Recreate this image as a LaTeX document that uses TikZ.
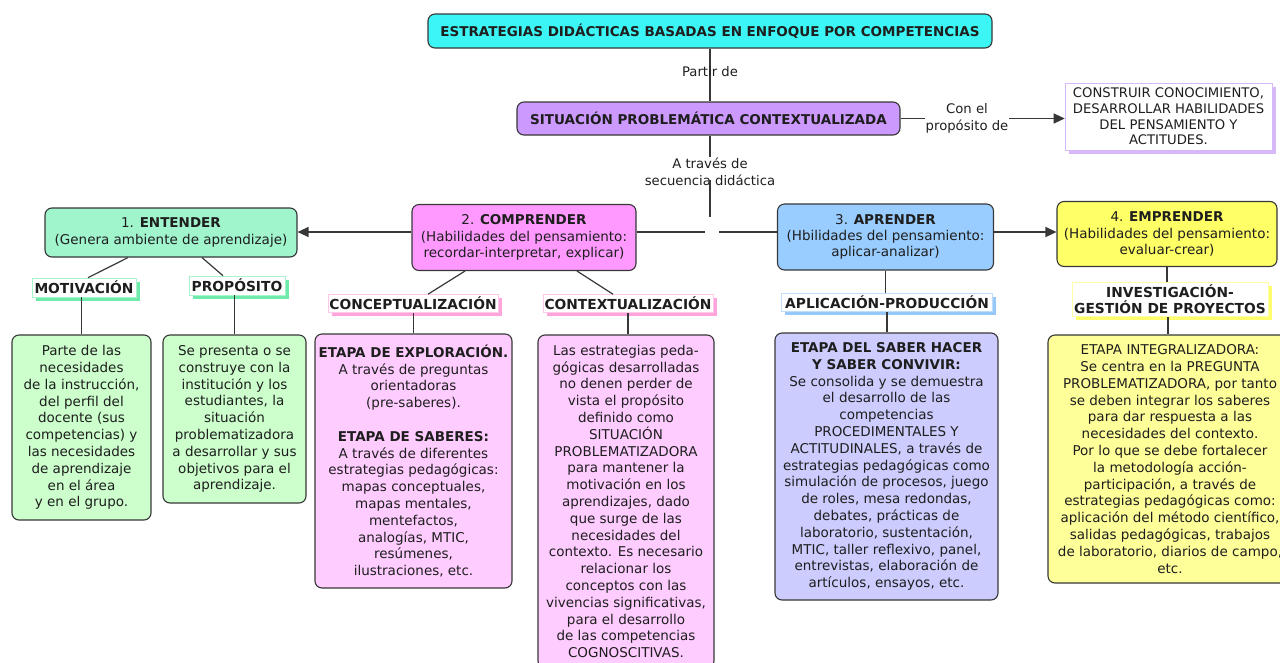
\documentclass[tikz,border=0pt]{standalone}
\usepackage{fontspec}
\setmainfont{DejaVu Sans}
\usetikzlibrary{arrows.meta,shadows,calc}

\definecolor{txt}{RGB}{30,30,30}
\definecolor{linec}{RGB}{55,55,55}
\definecolor{cyanT}{RGB}{60,245,245}
\definecolor{lilac}{RGB}{204,153,255}
\definecolor{lilacL}{RGB}{215,185,250}
\definecolor{mint}{RGB}{160,245,205}
\definecolor{pinkM}{RGB}{255,153,255}
\definecolor{blueM}{RGB}{153,204,255}
\definecolor{yellowM}{RGB}{255,255,102}
\definecolor{greenL}{RGB}{204,255,204}
\definecolor{pinkL}{RGB}{255,204,255}
\definecolor{blueL}{RGB}{204,204,255}
\definecolor{yellowL}{RGB}{255,255,153}
\definecolor{greenS}{RGB}{110,235,170}
\definecolor{pinkS}{RGB}{255,165,220}
\definecolor{blueS}{RGB}{150,200,250}
\definecolor{yellowS}{RGB}{255,255,110}

\tikzset{
  box/.style={draw=linec, line width=1.1pt, rounded corners=7pt, align=center,
    inner sep=2pt, text=txt, font=\fontsize{13.5}{16.8}\selectfont},
  headbox/.style={box, font=\fontsize{13.5}{16.2}\selectfont},
  tagbox/.style={fill=white, draw=#1!60, line width=0.6pt, align=center, inner sep=1pt,
    text=txt, font=\bfseries\fontsize{13.8}{15.8}\selectfont,
    drop shadow={shadow xshift=3.5pt, shadow yshift=-3.5pt, fill=#1, opacity=1}},
  lbl/.style={align=center, text=txt, font=\fontsize{13.2}{17}\selectfont, inner sep=1pt},
  conn/.style={draw=linec, line width=1.2pt},
  arr/.style={conn, -{Triangle[length=11pt,width=10pt]}},
}

\begin{document}
\begin{tikzpicture}[x=1pt,y=-1pt]
\useasboundingbox (0,0) rectangle (1280,662);
\clip (0,0) rectangle (1280,662);

% top level
\node[box, fill=cyanT, minimum width=564pt, minimum height=34pt, font=\bfseries\fontsize{13.5}{16}\selectfont]
  (title) at (710,31) {ESTRATEGIAS DIDÁCTICAS BASADAS EN ENFOQUE POR COMPETENCIAS};
\node[box, fill=lilac, minimum width=383pt, minimum height=33pt, font=\bfseries\fontsize{13.5}{16}\selectfont]
  (sit) at (708.5,118.5) {SITUACIÓN PROBLEMÁTICA CONTEXTUALIZADA};
\node[draw=lilacL, line width=0.6pt, fill=white, align=center, text=txt, inner sep=0pt,
  minimum width=207pt, minimum height=67pt, font=\fontsize{13.2}{15.6}\selectfont,
  drop shadow={shadow xshift=4pt, shadow yshift=-4pt, fill=lilacL, opacity=1}]
  (cons) at (1168.5,116.5) {CONSTRUIR CONOCIMIENTO,\\DESARROLLAR HABILIDADES\\DEL PENSAMIENTO Y\\ACTITUDES.};

% the four stages
\node[headbox, fill=mint, minimum width=252pt, minimum height=49pt]
  (ent) at (171,232.5) {1. \textbf{ENTENDER}\\(Genera ambiente de aprendizaje)};
\node[headbox, fill=pinkM, minimum width=224pt, minimum height=66pt]
  (comp) at (524,237.5) {2. \textbf{COMPRENDER}\\(Habilidades del pensamiento:\\recordar-interpretar, explicar)};
\node[headbox, fill=blueM, minimum width=216pt, minimum height=66pt]
  (apr) at (885.5,237) {3. \textbf{APRENDER}\\(Hbilidades del pensamiento:\\aplicar-analizar)};
\node[headbox, fill=yellowM, minimum width=220pt, minimum height=65pt]
  (emp) at (1167,234) {4. \textbf{EMPRENDER}\\(Habilidades del pensamiento:\\evaluar-crear)};

% tags
\node[tagbox=greenS, minimum width=104pt, minimum height=19pt] (mot) at (84,287.5) {MOTIVACIÓN};
\node[tagbox=greenS, minimum width=96pt, minimum height=19pt] (prop) at (237,285.5) {PROPÓSITO};
\node[tagbox=pinkS, minimum width=170pt, minimum height=18pt] (concep) at (413,303.5) {CONCEPTUALIZACIÓN};
\node[tagbox=pinkS, minimum width=170pt, minimum height=18pt] (contex) at (628,303.5) {CONTEXTUALIZACIÓN};
\node[tagbox=blueS, minimum width=211pt, minimum height=18pt] (aplic) at (887,302.5) {APLICACIÓN-PRODUCCIÓN};
\node[tagbox=yellowS, minimum width=196pt, minimum height=34pt] (invest) at (1170,299.5) {INVESTIGACIÓN-\\GESTIÓN DE PROYECTOS};

% detail boxes
\node[box, fill=greenL, minimum width=139pt, minimum height=185pt] (bA) at (81.5,427.5)
  {Parte de las\\necesidades\\de la instrucción,\\del perfil del\\docente (sus\\competencias) y\\las necesidades\\de aprendizaje\\en el área\\y en el grupo.};
\node[box, fill=greenL, minimum width=143pt, minimum height=168pt] (bB) at (234.5,419)
  {Se presenta o se\\construye con la\\institución y los\\estudiantes, la\\situación\\problematizadora\\a desarrollar y sus\\objetivos para el\\aprendizaje.};
\node[box, fill=pinkL, minimum width=197pt, minimum height=254pt] (bC) at (413.5,461)
  {\textbf{ETAPA DE EXPLORACIÓN.}\\A través de preguntas\\orientadoras\\(pre-saberes).\\[16.8pt]\textbf{ETAPA DE SABERES:}\\A través de diferentes\\estrategias pedagógicas:\\mapas conceptuales,\\mapas mentales,\\mentefactos,\\analogías, MTIC,\\resúmenes,\\ilustraciones, etc.};
\node[box, fill=pinkL, minimum width=176pt, minimum height=333pt] (bD) at (626,501.5)
  {Las estrategias peda-\\gógicas desarrolladas\\no denen perder de\\vista el propósito\\definido como\\SITUACIÓN\\PROBLEMATIZADORA\\para mantener la\\motivación en los\\aprendizajes, dado\\que surge de las\\necesidades del\\contexto. Es necesario\\relacionar los\\conceptos con las\\vivencias significativas,\\para el desarrollo\\de las competencias\\COGNOSCITIVAS.};
\node[box, fill=blueL, minimum width=223pt, minimum height=267pt] (bE) at (886.5,466.5)
  {\textbf{ETAPA DEL SABER HACER}\\\textbf{Y SABER CONVIVIR:}\\Se consolida y se demuestra\\el desarrollo de las\\competencias\\PROCEDIMENTALES Y\\ACTITUDINALES, a través de\\estrategias pedagógicas como\\simulación de procesos, juego\\de roles, mesa redondas,\\debates, prácticas de\\laboratorio, sustentación,\\MTIC, taller reflexivo, panel,\\entrevistas, elaboración de\\artículos, ensayos, etc.};
\node[box, fill=yellowL, minimum width=244pt, minimum height=248pt] (bF) at (1170,459)
  {ETAPA INTEGRALIZADORA:\\Se centra en la PREGUNTA\\PROBLEMATIZADORA, por tanto\\se deben integrar los saberes\\para dar respuesta a las\\necesidades del contexto.\\Por lo que se debe fortalecer\\la metodología acción-\\participación, a través de\\estrategias pedagógicas como:\\aplicación del método científico,\\salidas pedagógicas, trabajos\\de laboratorio, diarios de campo,\\etc.};

% linking phrases
\node[lbl] (conlab) at (967,118.5) {Con el\\propósito de};
\node[lbl] (atr) at (710,172) {A través de\\secuencia didáctica};
\coordinate (jn) at (710,217);
\coordinate (hl) at (705,232);
\coordinate (hr) at (719,232);

% connectors
\draw[conn] (title.south) -- (title.south |- sit.north);
\draw[conn] (sit.east) -- (conlab.west);
\draw[arr] (conlab.east) -- (conlab.east -| cons.west);
\draw[conn] (sit.south -| atr.north) -- (atr.north);
\draw[conn] ($(atr.south)+(0,-7)$) -- (jn);
\draw[conn] (comp.east |- hl) -- (hl);
\draw[conn] (hr) -- (apr.west |- hr);
\draw[arr] (comp.west |- hl) -- (ent.east |- hl);
\draw[arr] (apr.east |- hr) -- (emp.west |- hr);

\draw[conn] ($(ent.south)+(-43,0)$) -- ($(mot.north)+(4,0)$);
\draw[conn] ($(ent.south)+(31,0)$) -- ($(prop.north)+(-14,0)$);
\draw[conn] ($(comp.south)+(-59,0)$) -- ($(concep.north)+(15,0)$);
\draw[conn] ($(comp.south)+(53,0)$) -- ($(contex.north)+(-15,0)$);
\draw[conn] (apr.south) -- (apr.south |- aplic.north);
\draw[conn] (emp.south) -- (emp.south |- invest.north);

\draw[conn] (bA.north |- mot.south) -- (bA.north);
\draw[conn] (bB.north |- prop.south) -- (bB.north);
\draw[conn] (bC.north |- concep.south) -- (bC.north);
\draw[conn] (contex.south) -- (contex.south |- bD.north);
\draw[conn] (aplic.south) -- (aplic.south |- bE.north);
\draw[conn] ($(invest.south)+(-2,0)$) -- ($(invest.south |- bF.north)+(-2,0)$);

% the label that sits on top of its connector line
\node[lbl] (partir) at (710,72) {Partir de};
\end{tikzpicture}
\end{document}
